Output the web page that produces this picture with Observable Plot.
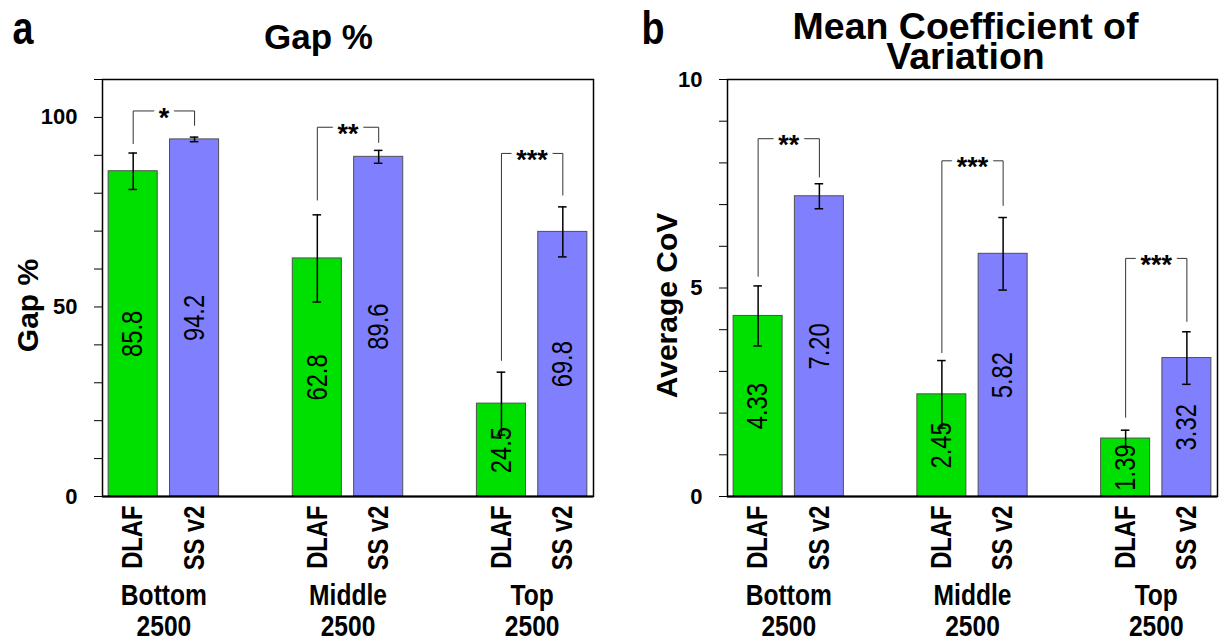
<!DOCTYPE html>
<html><head><meta charset="utf-8">
<script src="https://cdn.jsdelivr.net/npm/d3@7"></script>
<script src="https://cdn.jsdelivr.net/npm/@observablehq/plot@0.6"></script>
<style>
body{margin:0;background:#fff;}
#fig{position:relative;width:1221px;height:643px;overflow:hidden;background:#fff;}
#pa,#pb{position:absolute;top:0;}
#pa{left:0}
#pb{left:610px}
</style></head><body>
<div id="fig"><div id="pa"></div><div id="pb"></div></div>
<script>
// ---- data ----
const groups = ["Bottom\n2500", "Middle\n2500", "Top\n2500"];
const methods = ["DLAF", "SS v2"];
const colors = ["#00E000", "#8080FF"];

const gapDLAF = [85.8, 62.8, 24.5];
const gapSS = [94.2, 89.6, 69.8];
const gapErrDLAF = [4.8, 11.5, 8.3];
const gapErrSS = [0.6, 1.7, 6.6];
const gapSig = ["*", "**", "***"];
const gapBracketTop = [101.7, 97.4, 90.5];
const gapBracketLegDLAF = [93.1, 78.2, 35.9];
const gapBracketLegSS = [97.9, 93.4, 79.5];
const gapTicks = [0, 10, 20, 30, 40, 50, 60, 70, 80, 90, 100, 110];
const gapTickLabels = [0, 50, 100];

const covDLAF = [4.33, 2.45, 1.39];
const covSS = [7.20, 5.82, 3.32];
const covErrDLAF = [0.72, 0.81, 0.20];
const covErrSS = [0.30, 0.87, 0.63];
const covSig = ["**", "***", "***"];
const covBracketTop = [8.58, 8.05, 5.71];
const covBracketLegDLAF = [5.28, 3.45, 1.90];
const covBracketLegSS = [7.66, 6.98, 4.20];
const covTicks = [0, 1, 2, 3, 4, 5, 6, 7, 8, 9, 10];
const covTickLabels = [0, 5, 10];

// ---- styles ----
const SANS = "'Liberation Sans', Arial, sans-serif";
const NARROW_SCALE = 0.82;

function panel(cfg) {
  const rows = groups.flatMap((g, gi) => methods.map((m, mi) => ({
    group: g, method: m, slot: gi * 3 + mi,
    value: (mi === 0 ? cfg.dlaf : cfg.ss)[gi],
    err: (mi === 0 ? cfg.errDlaf : cfg.errSs)[gi]
  })));
  const caps = rows.flatMap(d => [{slot: d.slot, y: d.value - d.err}, {slot: d.slot, y: d.value + d.err}]);
  const brackets = groups.map((g, gi) => ({
    id: gi, xl: gi * 3, xr: gi * 3 + 1, xc: gi * 3 + 0.5,
    top: cfg.top[gi], legL: cfg.legL[gi], legR: cfg.legR[gi], sig: cfg.sig[gi]
  }));
  const bracketPts = brackets.flatMap(b => [
    {id: b.id, x: b.xl, y: b.legL}, {id: b.id, x: b.xl, y: b.top},
    {id: b.id, x: b.xr, y: b.top}, {id: b.id, x: b.xr, y: b.legR}
  ]);
  const groupRows = groups.map((g, gi) => ({group: g, xc: gi * 3 + 0.5}));

  const svg = Plot.plot({
    width: cfg.width, height: 643,
    marginLeft: cfg.marginLeft, marginRight: cfg.marginRight, marginTop: 79, marginBottom: 147,
    style: {fontFamily: SANS, fontSize: "22px", fontWeight: "bold", color: "#000", background: "white", overflow: "visible"},
    x: {domain: [-0.5, 7.5], axis: null},
    y: {domain: [0, cfg.yMax], ticks: cfg.ticks, tickFormat: d => cfg.tickLabels.includes(d) ? String(d) : "",
        tickSize: 8, tickPadding: 17, label: null},
    color: {domain: methods, range: colors},
    marks: [
      Plot.rect(rows, {x1: d => d.slot - 0.4, x2: d => d.slot + 0.4, y1: d => 0, y2: "value",
        fill: "method", stroke: "#505050", strokeWidth: 1}),
      Plot.text(rows, {x: "slot", y: d => d.value / 2, text: d => cfg.fmt(d.value), rotate: -90,
        fontSize: 29, fontFamily: SANS, fontWeight: "normal", fill: "#000", ariaDescription: "narrow"}),
      Plot.ruleX(rows, {x: "slot", y1: d => d.value - d.err, y2: d => d.value + d.err, stroke: "#000", strokeWidth: 1.5}),
      Plot.ruleY(caps, {y: "y", x1: d => d.slot - 0.07, x2: d => d.slot + 0.07, stroke: "#000", strokeWidth: 1.5}),
      Plot.line(bracketPts, {x: "x", y: "y", z: "id", stroke: "#333", strokeWidth: 1}),
      Plot.text(brackets, {x: "xc", y: "top", text: "sig", fontSize: 27, fontWeight: "bold", fontFamily: SANS,
        fill: "white", stroke: "white", strokeWidth: 10, dy: 7}),
      Plot.text(brackets, {x: "xc", y: "top", text: "sig", fontSize: 27, fontWeight: "bold", fontFamily: SANS,
        fill: "#000", dy: 7}),
      Plot.frame({stroke: "#000", strokeWidth: 1.5}),
      Plot.ruleY([0], {stroke: "#000", strokeWidth: 2}),
      Plot.text(rows, {x: "slot", y: d => 0, text: "method", rotate: -90, textAnchor: "end", dy: 9,
        fontSize: 29, fontWeight: "bold", fontFamily: SANS, fill: "#000", ariaDescription: "narrow"}),
      Plot.text(groupRows, {x: "xc", y: d => 0, text: "group", lineAnchor: "top", lineHeight: 1.04, dy: 86,
        fontSize: 30, fontWeight: "bold", fontFamily: SANS, fill: "#000", ariaDescription: "narrow"}),
      Plot.text([cfg.title], {frameAnchor: "top-left", text: d => d, dx: cfg.titleDx, dy: cfg.titleDy,
        textAnchor: "middle", lineAnchor: "bottom", lineHeight: cfg.titleLH, fontSize: cfg.titleSize,
        fontWeight: "bold", fontFamily: SANS, fill: "#000"}),
      Plot.text([cfg.letter], {frameAnchor: "top-left", text: d => d, dx: cfg.letterDx, dy: -36, textAnchor: "start",
        lineAnchor: "bottom", fontSize: 46, fontWeight: "bold", fontFamily: SANS, fill: "#000", ariaDescription: "narrow"}),
      Plot.text([cfg.ylabel], {frameAnchor: "top-left", text: d => d, dx: cfg.ylabelDx, dy: 226, rotate: -90,
        textAnchor: "middle", lineAnchor: "bottom", fontSize: 30, fontWeight: "bold", fontFamily: SANS, fill: "#000"})
    ]
  });
  // emulate a narrow (condensed) face, which is not installed, by compressing glyphs along the text direction
  svg.querySelectorAll("g[aria-description='narrow'] text").forEach(t => {
    const tr = t.getAttribute("transform") || "";
    t.setAttribute("transform", tr + ` scale(${NARROW_SCALE},1)`);
  });
  return svg;
}

document.getElementById("pa").appendChild(panel({
  width: 610, marginLeft: 102, marginRight: 17,
  dlaf: gapDLAF, ss: gapSS, errDlaf: gapErrDLAF, errSs: gapErrSS,
  sig: gapSig, top: gapBracketTop, legL: gapBracketLegDLAF, legR: gapBracketLegSS,
  yMax: 110, ticks: gapTicks, tickLabels: gapTickLabels, fmt: d3.format(".1f"),
  title: "Gap %", titleDx: 216, titleDy: -31, titleSize: 35, titleLH: 1,
  letter: "a", letterDx: -90, ylabel: "Gap %", ylabelDx: -65
}));

document.getElementById("pb").appendChild(panel({
  width: 611, marginLeft: 117, marginRight: 4,
  dlaf: covDLAF, ss: covSS, errDlaf: covErrDLAF, errSs: covErrSS,
  sig: covSig, top: covBracketTop, legL: covBracketLegDLAF, legR: covBracketLegSS,
  yMax: 10, ticks: covTicks, tickLabels: covTickLabels, fmt: d3.format(".2f"),
  title: "Mean Coefficient of\nVariation", titleDx: 238, titleDy: -11, titleSize: 37.5, titleLH: 0.78,
  letter: "b", letterDx: -86, ylabel: "Average CoV", ylabelDx: -51
}));
</script>
</body></html>
